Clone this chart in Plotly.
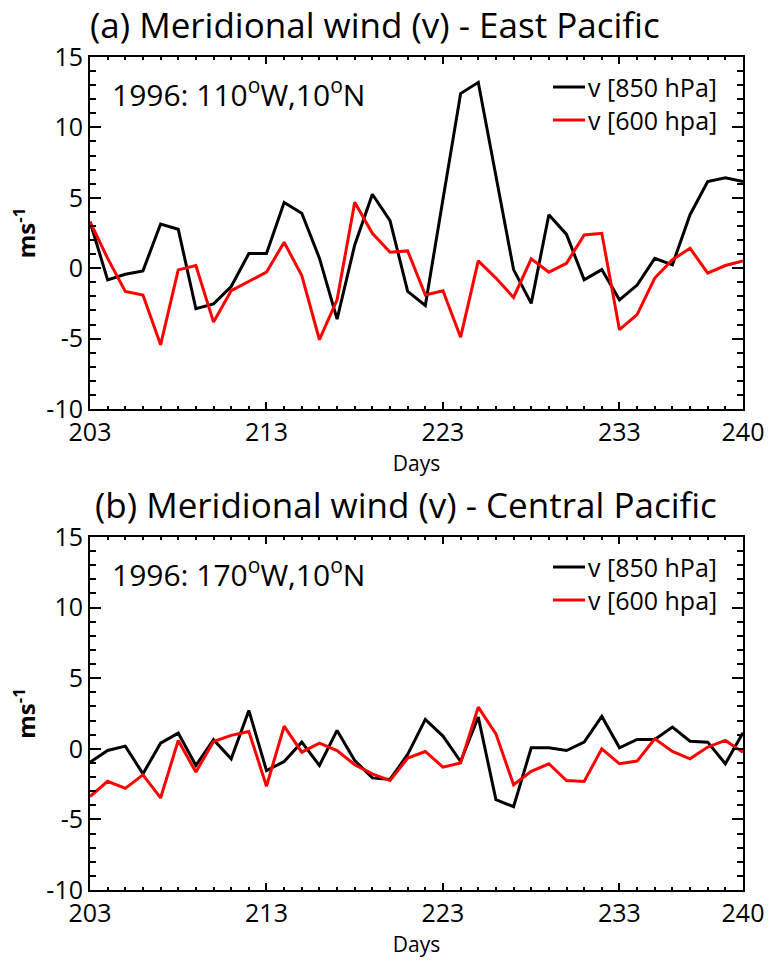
import plotly.graph_objects as go

days = list(range(203, 241))

east_850 = [3.3, -0.83, -0.43, -0.19, 3.14, 2.77, -2.88, -2.53, -1.3, 1.04,
            1.04, 4.66, 3.9, 0.71, -3.62, 1.65, 5.25, 3.38, -1.65, -2.65,
            4.9, 12.4, 13.2, 6.6, -0.1, -2.5, 3.8, 2.4, -0.83, -0.1,
            -2.25, -1.2, 0.7, 0.24, 3.8, 6.15, 6.43, 6.15]
east_600 = [3.3, 0.7, -1.65, -1.9, -5.44, -0.12, 0.19, -3.83, -1.6, -0.95,
            -0.28, 1.84, -0.52, -5.08, -2.25, 4.68, 2.48, 1.13, 1.23, -1.9,
            -1.6, -4.9, 0.52, -0.7, -2.08, 0.66, -0.28, 0.35, 2.36, 2.48,
            -4.37, -3.3, -0.7, 0.6, 1.42, -0.35, 0.19, 0.52]
central_850 = [-0.95, -0.12, 0.19, -1.77, 0.4, 1.11, -1.18, 0.64, -0.71, 2.72,
               -1.54, -0.9, 0.47, -1.18, 1.3, -0.83, -2.06, -2.17, -0.4, 2.08,
               0.9, -0.9, 2.25, -3.6, -4.1, 0.07, 0.07, -0.12, 0.47, 2.3,
               0.07, 0.66, 0.66, 1.54, 0.54, 0.47, -1.06, 1.13]
central_600 = [-3.38, -2.3, -2.8, -1.84, -3.48, 0.59, -1.65, 0.52, 0.95, 1.23,
               -2.65, 1.6, -0.24, 0.4, -0.12, -1.13, -1.77, -2.25, -0.66, -0.19,
               -1.3, -1.0, 2.95, 1.06, -2.55, -1.6, -1.06, -2.25, -2.32, 0.0,
               -1.06, -0.87, 0.71, -0.19, -0.71, 0.12, 0.59, -0.24]

x_tickvals = [203, 213, 223, 233, 240]
y_tickvals = [-10, -5, 0, 5, 10, 15]
titles = ["(a) Meridional wind (v) - East Pacific",
          "(b) Meridional wind (v) - Central Pacific"]
locations = ["1996: 110<sup>o</sup>W,10<sup>o</sup>N",
             "1996: 170<sup>o</sup>W,10<sup>o</sup>N"]
series_names = ["v [850 hPa]", "v [600 hpa]"]

W, H = 773, 965
FONT = "Open Sans"
X0, X1 = 90, 743

fig = go.Figure()

panels = [(east_850, east_600, 57, 409, 88), (central_850, central_600, 537, 890, 93)]
for i, (s850, s600, top, bot, title_x) in enumerate(panels):
    n = "" if i == 0 else "2"
    xa, ya = "x" + n, "y" + n
    fig.add_trace(go.Scatter(x=days, y=s850, mode="lines", xaxis=xa, yaxis=ya,
                             line=dict(color="black", width=3),
                             name=series_names[0], showlegend=False))
    fig.add_trace(go.Scatter(x=days, y=s600, mode="lines", xaxis=xa, yaxis=ya,
                             line=dict(color="#ff0000", width=3),
                             name=series_names[1], showlegend=False))
    ydom = [1 - bot / H, 1 - top / H]
    axis_common = dict(showline=True, linecolor="black", linewidth=2, mirror="allticks",
                       ticks="inside", tickcolor="black", tickwidth=1.5,
                       showgrid=False, zeroline=False, automargin=False,
                       tickfont=dict(family=FONT, size=25, color="black"))
    fig.layout["xaxis" + n] = dict(
        axis_common, domain=[X0 / W, X1 / W], range=[203, 240], anchor=ya, ticklen=7,
        tickvals=x_tickvals, ticktext=[str(v) for v in x_tickvals],
        minor=dict(dtick=1, tick0=203, ticks="inside", ticklen=3, tickcolor="black", tickwidth=1.5),
        title=dict(text="Days", font=dict(family=FONT, size=21, color="black"), standoff=9))
    fig.layout["yaxis" + n] = dict(
        axis_common, domain=ydom, range=[-10, 15], anchor=xa, ticklen=11,
        tickvals=y_tickvals, ticktext=[str(v) for v in y_tickvals],
        minor=dict(dtick=1, tick0=0, ticks="inside", ticklen=6, tickcolor="black", tickwidth=1.5),
        title=dict(text="<b>ms<sup>-1</sup></b>", font=dict(family=FONT, size=24, color="black"),
                   standoff=4))
    # panel title
    fig.add_annotation(text=titles[i], xref="paper", yref="paper",
                       x=title_x / W, y=1 - (top - 33) / H, xanchor="left", yanchor="middle",
                       showarrow=False, font=dict(family=FONT, size=35, color="black"))
    # location label
    fig.add_annotation(text=locations[i], xref="paper", yref="paper",
                       x=110 / W, y=1 - (top + 36) / H, xanchor="left", yanchor="middle",
                       showarrow=False, font=dict(family=FONT, size=30, color="black"))
    # legend entries
    for k, (name, col) in enumerate(zip(series_names, ["black", "#ff0000"])):
        ly = 1 - (top + 30 + k * 33) / H
        fig.add_shape(type="line", xref="paper", yref="paper",
                      x0=553 / W, x1=585 / W, y0=ly, y1=ly,
                      line=dict(color=col, width=3))
        fig.add_annotation(text=name, xref="paper", yref="paper",
                           x=586 / W, y=ly, xanchor="left", yanchor="middle",
                           showarrow=False, font=dict(family=FONT, size=25, color="black"))

fig.update_layout(width=W, height=H, margin=dict(l=0, r=0, t=0, b=0),
                  paper_bgcolor="white", plot_bgcolor="white", showlegend=False)

fig.write_html("out.html")
